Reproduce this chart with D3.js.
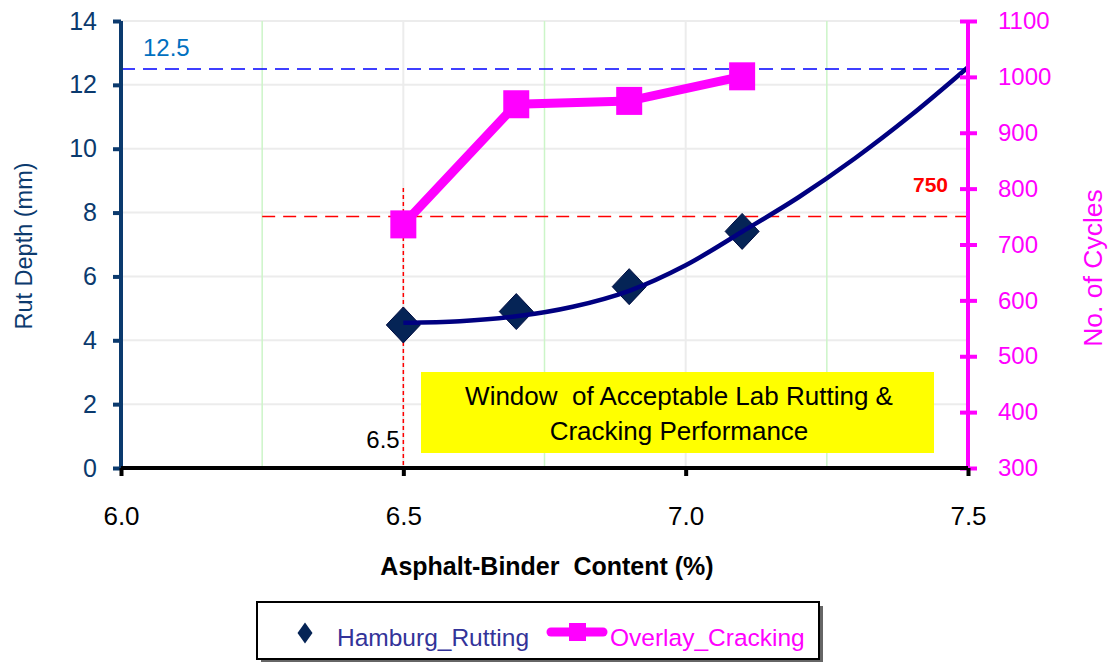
<!DOCTYPE html>
<html>
<head>
<meta charset="utf-8">
<script src="https://cdn.jsdelivr.net/npm/d3@7"></script>
<style>
  body { margin: 0; background: #fff; }
  svg text { font-family: "Liberation Sans", Arial, sans-serif; }
</style>
</head>
<body>
<svg id="chart" width="1112" height="662"></svg>
<script>
// data
var binderContent = [6.5, 6.7, 6.9, 7.1];
var rutDepth = [4.48, 4.9, 5.68, 7.41];
var cycles = [736, 951, 957, 1001];

// polynomial trendline of rutting
var trendX = [6.5, 6.6, 6.7, 6.8, 6.9, 7.0, 7.1, 7.2, 7.3, 7.4, 7.5];
var trendY = [4.55, 4.6, 4.75, 5.05, 5.55, 6.35, 7.4, 8.48, 9.7, 11.06, 12.55];

var xTicks = [6.0, 6.5, 7.0, 7.5];
var leftTicks = [0, 2, 4, 6, 8, 10, 12, 14];
var rightTicks = [300, 400, 500, 600, 700, 800, 900, 1000, 1100];
var rutLimit = 12.5, cycleLimit = 750, binderLimit = 6.5;

var svg = d3.select("#chart");
var plot = { left: 121, right: 968, top: 21, bottom: 468 };

var x = d3.scaleLinear().domain([6.0, 7.5]).range([plot.left, plot.right]);
var y = d3.scaleLinear().domain([0, 14]).range([plot.bottom, plot.top]);
var y2 = d3.scaleLinear().domain([300, 1100]).range([plot.bottom, plot.top]);

var navy = "#0b3a6e", pink = "#ff00ff";
var font = "Liberation Sans, Arial, sans-serif";

// gridlines
svg.append("g").selectAll("line").data(leftTicks.slice(1)).join("line")
    .attr("x1", plot.left).attr("x2", plot.right)
    .attr("y1", d => y(d)).attr("y2", d => y(d))
    .attr("stroke", "#ececec").attr("stroke-width", 2);
svg.append("g").selectAll("line").data([6.5, 7.0]).join("line")
    .attr("x1", d => x(d)).attr("x2", d => x(d))
    .attr("y1", plot.top).attr("y2", plot.bottom)
    .attr("stroke", "#ececec").attr("stroke-width", 2);
svg.append("g").selectAll("line").data([6.25, 6.75, 7.25]).join("line")
    .attr("x1", d => x(d)).attr("x2", d => x(d))
    .attr("y1", plot.top).attr("y2", plot.bottom)
    .attr("stroke", "#ccf5c8").attr("stroke-width", 1.5);

// yellow window
svg.append("rect")
    .attr("x", 421).attr("y", 372).attr("width", 513).attr("height", 81)
    .attr("fill", "#ffff00");
svg.append("text").attr("x", 679).attr("y", 405).attr("text-anchor", "middle")
    .style("font-size", "26px").attr("fill", "#000")
    .attr("xml:space", "preserve")
    .text("Window  of Acceptable Lab Rutting &");
svg.append("text").attr("x", 679).attr("y", 440).attr("text-anchor", "middle")
    .style("font-size", "26px").attr("fill", "#000")
    .text("Cracking Performance");

// reference lines
svg.append("line")
    .attr("x1", plot.left).attr("x2", plot.right).attr("y1", y(rutLimit)).attr("y2", y(rutLimit))
    .attr("stroke", "#0000ff").attr("stroke-width", 1.5).attr("stroke-dasharray", "14,8");
svg.append("line")
    .attr("x1", x(6.25)).attr("x2", plot.right).attr("y1", y2(cycleLimit)).attr("y2", y2(cycleLimit))
    .attr("stroke", "#ff0000").attr("stroke-width", 1.5).attr("stroke-dasharray", "13,8");
svg.append("line")
    .attr("x1", x(binderLimit)).attr("x2", x(binderLimit)).attr("y1", 188).attr("y2", plot.bottom)
    .attr("stroke", "#ff0000").attr("stroke-width", 1.5).attr("stroke-dasharray", "4,3");

svg.append("text").attr("x", 143).attr("y", 56).style("font-size", "24px")
    .attr("fill", "#0070c0").text(rutLimit);
svg.append("text").attr("x", 948).attr("y", 192).attr("text-anchor", "end")
    .style("font-size", "21px").style("font-weight", "bold")
    .attr("fill", "#ff0000").text(cycleLimit);
svg.append("text").attr("x", 383).attr("y", 448).attr("text-anchor", "middle")
    .style("font-size", "24px").attr("fill", "#000").text(binderLimit.toFixed(1));

// overlay cracking
var cracking = binderContent.map((d, i) => [d, cycles[i]]);
svg.append("path").datum(cracking)
    .attr("fill", "none").attr("stroke", pink).attr("stroke-width", 9)
    .attr("stroke-linejoin", "round")
    .attr("d", d3.line().x(d => x(d[0])).y(d => y2(d[1])));
svg.append("g").selectAll("rect").data(cracking).join("rect")
    .attr("x", d => x(d[0]) - 13).attr("y", d => y2(d[1]) - 14)
    .attr("width", 26).attr("height", 28).attr("fill", pink);

// rutting trend + points
var trend = trendX.map((d, i) => [d, trendY[i]]);
var rutting = binderContent.map((d, i) => [d, rutDepth[i]]);
svg.append("g").selectAll("path").data(rutting).join("path")
    .attr("transform", d => "translate(" + x(d[0]) + "," + y(d[1]) + ")")
    .attr("d", "M0,-18L17,0L0,18L-17,0Z")
    .attr("fill", "#052456").attr("stroke", "#000c40").attr("stroke-width", 1);
svg.append("path").datum(trend)
    .attr("fill", "none").attr("stroke", "#000080").attr("stroke-width", 4.5)
    .attr("d", d3.line().curve(d3.curveCatmullRom).x(d => x(d[0])).y(d => y(d[1])));

// axes
var gl = svg.append("g").attr("transform", "translate(" + plot.left + ",0)")
    .call(d3.axisLeft(y).tickValues(leftTicks).tickSize(8).tickPadding(16));
gl.select(".domain").attr("stroke", navy).attr("stroke-width", 4)
    .attr("d", "M0," + plot.top + "V" + plot.bottom);
gl.selectAll(".tick line").attr("stroke", navy).attr("stroke-width", 4);
gl.selectAll(".tick text").attr("fill", navy).style("font-size", "25px").style("font-family", font);

var gr = svg.append("g").attr("transform", "translate(" + plot.right + ",0)")
    .call(d3.axisRight(y2).tickValues(rightTicks).tickFormat(d3.format("d")).tickSize(9).tickPadding(21));
gr.select(".domain").attr("stroke", pink).attr("stroke-width", 4)
    .attr("d", "M0," + plot.top + "V" + plot.bottom);
gr.selectAll(".tick line").attr("stroke", pink).attr("stroke-width", 4).attr("x1", -8);
gr.selectAll(".tick text").attr("fill", pink).style("font-size", "24px").style("font-family", font);

var gb = svg.append("g").attr("transform", "translate(0," + plot.bottom + ")")
    .call(d3.axisBottom(x).tickValues(xTicks).tickFormat(d3.format(".1f")).tickSize(8).tickPadding(31));
gb.select(".domain").attr("stroke", "#000").attr("stroke-width", 4)
    .attr("d", "M" + plot.left + ",0H" + plot.right);
gb.selectAll(".tick line").attr("stroke", "#000").attr("stroke-width", 4);
gb.selectAll(".tick text").attr("fill", "#000").style("font-size", "26px").style("font-family", font);

// axis titles
svg.append("text").attr("transform", "translate(32,246) rotate(-90)")
    .attr("text-anchor", "middle").style("font-size", "23.5px").attr("fill", navy)
    .text("Rut Depth (mm)");
svg.append("text").attr("transform", "translate(1102,268) rotate(-90)")
    .attr("text-anchor", "middle").style("font-size", "26.5px").attr("fill", pink)
    .text("No. of Cycles");
svg.append("text").attr("x", 547).attr("y", 575).attr("text-anchor", "middle")
    .style("font-size", "25px").style("font-weight", "bold").attr("fill", "#000")
    .attr("xml:space", "preserve")
    .text("Asphalt-Binder  Content (%)");

// legend
var lg = svg.append("g");
lg.append("rect").attr("x", 261).attr("y", 606).attr("width", 562).attr("height", 56).attr("fill", "#666");
lg.append("rect").attr("x", 257).attr("y", 602).attr("width", 562).attr("height", 57)
    .attr("fill", "#fff").attr("stroke", "#000").attr("stroke-width", 2);
lg.append("path").attr("transform", "translate(305,633)")
    .attr("d", "M0,-10.5L7.5,0L0,10.5L-7.5,0Z").attr("fill", "#052456");
lg.append("text").attr("x", 337).attr("y", 646).style("font-size", "24.5px")
    .attr("fill", "#333399").text("Hamburg_Rutting");
lg.append("line").attr("x1", 551).attr("x2", 603).attr("y1", 632).attr("y2", 632)
    .attr("stroke", pink).attr("stroke-width", 9).attr("stroke-linecap", "round");
lg.append("rect").attr("x", 569).attr("y", 623).attr("width", 17).attr("height", 18).attr("fill", pink);
lg.append("text").attr("x", 610).attr("y", 646).style("font-size", "24.5px")
    .attr("fill", pink).text("Overlay_Cracking");
</script>
</body>
</html>
